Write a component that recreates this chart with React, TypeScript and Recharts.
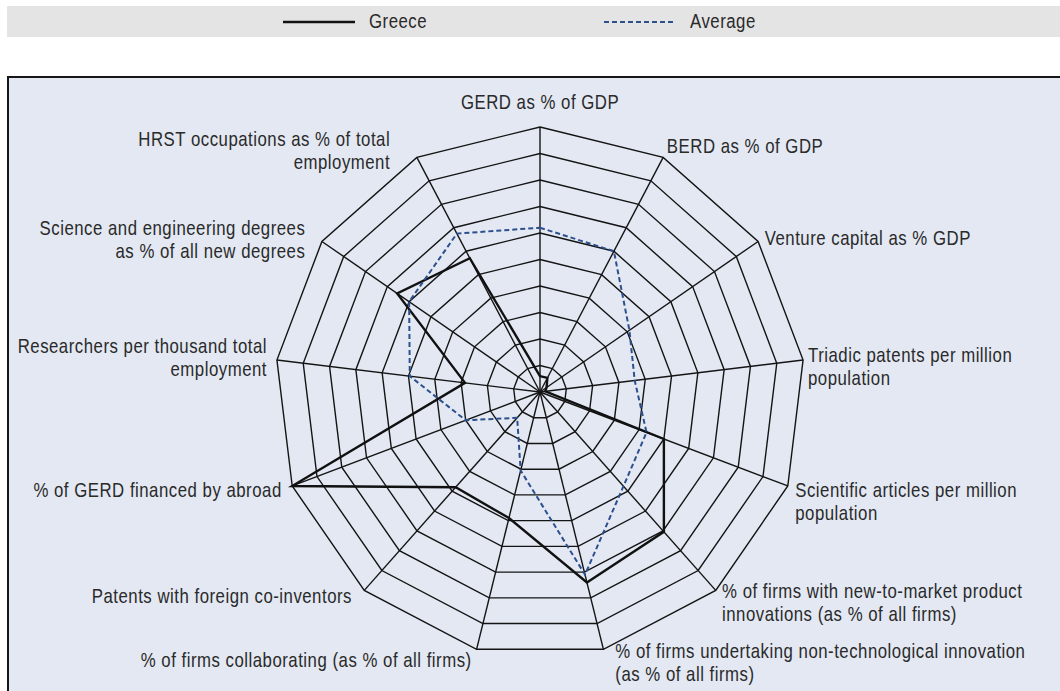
import React from 'react';
import { RadarChart, Radar, PolarGrid, PolarAngleAxis, PolarRadiusAxis, Legend } from 'recharts';

const categories = [
  'GERD as % of GDP',
  'BERD as % of GDP',
  'Venture capital as % GDP',
  'Triadic patents per million population',
  'Scientific articles per million population',
  '% of firms with new-to-market product innovations (as % of all firms)',
  '% of firms undertaking non-technological innovation (as % of all firms)',
  '% of firms collaborating (as % of all firms)',
  'Patents with foreign co-inventors',
  '% of GERD financed by abroad',
  'Researchers per thousand total employment',
  'Science and engineering degrees as % of all new degrees',
  'HRST occupations as % of total employment',
];

const greeceValues = [0.6, 0.6, 0.3, 0.2, 5.0, 7.05, 7.4, 4.9, 4.8, 10, 2.85, 6.55, 5.7];
const averageValues = [6.2, 6.0, 4.1, 3.6, 4.3, 4.75, 7.1, 3.05, 1.3, 3.0, 4.95, 6.0, 6.75];

const tickLabelLines = [
  ['GERD as % of GDP'],
  ['BERD as % of GDP'],
  ['Venture capital as % GDP'],
  ['Triadic patents per million', 'population'],
  ['Scientific articles per million', 'population'],
  ['% of firms with new-to-market product', 'innovations (as % of all firms)'],
  ['% of firms undertaking non-technological innovation', '(as % of all firms)'],
  ['% of firms collaborating (as % of all firms)'],
  ['Patents with foreign co-inventors'],
  ['% of GERD financed by abroad'],
  ['Researchers per thousand total', 'employment'],
  ['Science and engineering degrees', 'as % of all new degrees'],
  ['HRST occupations as % of total', 'employment'],
];

const radiusTicks = [0, 10];

const seriesConfig = [
  { key: 'Greece', color: '#111111', width: 2.4, dash: undefined as string | undefined },
  { key: 'Average', color: '#2c4f8e', width: 2, dash: '5 3' },
];

const data = categories.map((c, i) => ({
  category: c,
  Greece: greeceValues[i],
  Average: averageValues[i],
}));

// label layout (offsets relative to the axis tick point)
const labelLayout: { anchor: 'start' | 'middle' | 'end'; dx: number; dy: number }[] = [
  { anchor: 'middle', dx: 0, dy: -17 },
  { anchor: 'start', dx: 0, dy: -4 },
  { anchor: 'start', dx: 0, dy: 1 },
  { anchor: 'start', dx: -3, dy: -4 },
  { anchor: 'start', dx: 0, dy: 1 },
  { anchor: 'start', dx: 1, dy: -5 },
  { anchor: 'start', dx: 10, dy: -6 },
  { anchor: 'end', dx: -3, dy: 3 },
  { anchor: 'end', dx: -7, dy: 0 },
  { anchor: 'end', dx: -3, dy: 1 },
  { anchor: 'end', dx: -2, dy: -13 },
  { anchor: 'end', dx: -10, dy: -9 },
  { anchor: 'end', dx: -23, dy: -11 },
];

const FONT = "'Liberation Sans', Arial, sans-serif";
const FONT_SIZE = 20;
const SCALE_X = 0.84;
const LETTER_SP = 0.6;
const LINE_H = 23;
const TEXT_COLOR = '#2a2a2a';

const renderTick = (props: any) => {
  const { x, y, payload } = props;
  const idx = categories.indexOf(payload.value);
  const lay = labelLayout[idx];
  const lines = tickLabelLines[idx];
  const tx = x + lay.dx;
  const ty = y + lay.dy + FONT_SIZE * 0.35;
  return (
    <g transform={`translate(${tx},${ty}) scale(${SCALE_X},1)`}>
      <text
        x={0}
        y={0}
        textAnchor={lay.anchor}
        fontFamily={FONT}
        fontSize={FONT_SIZE}
        letterSpacing={LETTER_SP}
        fill={TEXT_COLOR}
      >
        {lines.map((l, k) => (
          <tspan key={k} x={0} dy={k === 0 ? 0 : LINE_H}>
            {l}
          </tspan>
        ))}
      </text>
    </g>
  );
};

const legendLeft = [276, 597];

const renderLegend = (props: any) => {
  const payload: any[] = props.payload || [];
  return (
    <div style={{ position: 'relative', width: '100%', height: 31 }}>
      {seriesConfig.map((cfg, i) => {
        const entry = payload.find((p: any) => p.value === cfg.key);
        const label = entry ? entry.value : cfg.key;
        return (
          <div
            key={cfg.key}
            style={{
              position: 'absolute',
              left: legendLeft[i],
              top: 0,
              height: 31,
              display: 'flex',
              alignItems: 'center',
            }}
          >
            <svg width={72} height={10} style={{ display: 'block' }}>
              <line
                x1={0}
                y1={5}
                x2={72}
                y2={5}
                stroke={cfg.color}
                strokeWidth={cfg.width}
                strokeDasharray={cfg.dash}
              />
            </svg>
            <span
              style={{
                marginLeft: 14,
                fontFamily: FONT,
                fontSize: FONT_SIZE,
                letterSpacing: LETTER_SP,
                color: TEXT_COLOR,
                lineHeight: '31px',
                display: 'inline-block',
                transform: `scaleX(${SCALE_X})`,
                transformOrigin: 'left center',
                whiteSpace: 'nowrap',
              }}
            >
              {label}
            </span>
          </div>
        );
      })}
    </div>
  );
};

export default function App() {
  return (
    <div
      style={{
        position: 'absolute',
        left: 0,
        top: 0,
        width: 1060,
        height: 691,
        overflow: 'hidden',
        background: '#ffffff',
      }}
    >
      <div
        style={{
          position: 'absolute',
          left: 7,
          top: 76,
          width: 1100,
          height: 700,
          boxSizing: 'border-box',
          border: '2px solid #161616',
          background: '#e3e8f2',
        }}
      />
      <div style={{ position: 'absolute', left: 0, top: 0 }}>
        <RadarChart
          width={1060}
          height={691}
          data={data}
          cx={540}
          cy={392}
          outerRadius={265}
          margin={{ top: 0, right: 0, bottom: 0, left: 0 }}
        >
          <PolarGrid gridType="polygon" stroke="#141414" strokeWidth={1.4} />
          <PolarAngleAxis
            dataKey="category"
            tick={renderTick}
            tickLine={false}
            axisLine={false}
          />
          <PolarRadiusAxis
            domain={radiusTicks}
            tickCount={11}
            tick={false}
            axisLine={false}
            angle={90}
          />
          {seriesConfig.map((s) => (
            <Radar
              key={s.key}
              name={s.key}
              dataKey={s.key}
              stroke={s.color}
              strokeWidth={s.width}
              strokeDasharray={s.dash}
              fill="none"
              fillOpacity={0}
              dot={false}
              isAnimationActive={false}
            />
          ))}
          <Legend
            layout="horizontal"
            verticalAlign="middle"
            align="center"
            content={renderLegend}
            wrapperStyle={{
              top: 6,
              left: 7,
              width: 1053,
              height: 31,
              background: '#e4e4e4',
            }}
          />
        </RadarChart>
      </div>
    </div>
  );
}
